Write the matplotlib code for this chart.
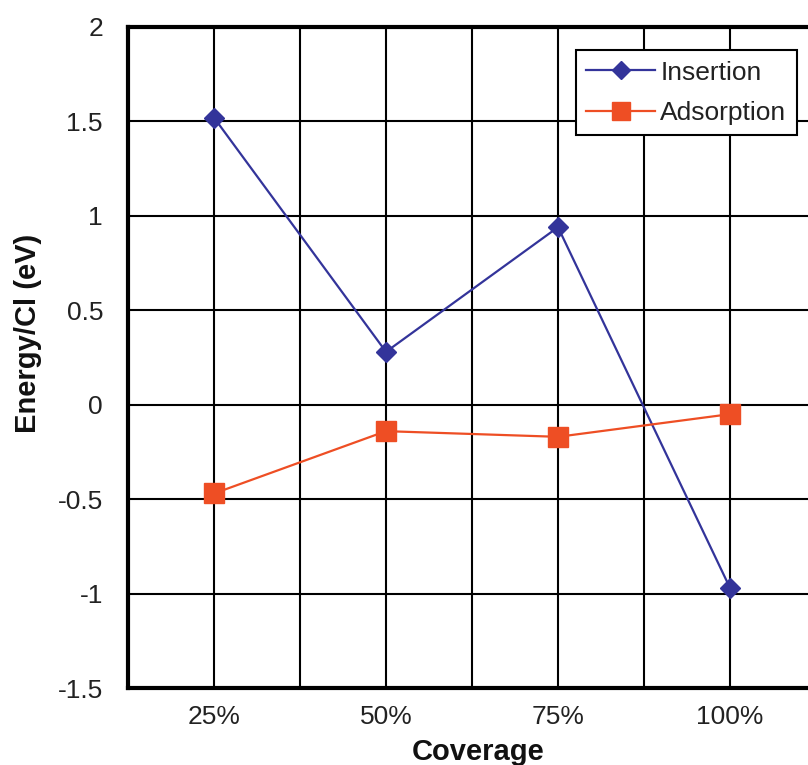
import matplotlib
matplotlib.use("Agg")
import matplotlib.pyplot as plt
import numpy as np

coverage = ["25%", "50%", "75%", "100%"]
insertion = [1.52, 0.28, 0.94, -0.97]
adsorption = [-0.47, -0.14, -0.17, -0.05]
y_ticks = [-1.5, -1, -0.5, 0, 0.5, 1, 1.5, 2]
y_tick_labels = ["-1.5", "-1", "-0.5", "0", "0.5", "1", "1.5", "2"]

plt.rcParams["font.family"] = ["Liberation Sans", "DejaVu Sans"]

W, H = 808, 765
fig = plt.figure(figsize=(W / 100, H / 100), dpi=100)

# axes box in pixel terms; the right side runs past the figure edge
left, right, top, bottom = 128, 816, 27, 688
ax = fig.add_axes([left / W, 1 - bottom / H, (right - left) / W, (bottom - top) / H])

x = np.arange(len(coverage))
ax.plot(x, insertion, color="#33349A", lw=1.6, marker="D", ms=10,
        label="Insertion", zorder=3, clip_on=False)
ax.plot(x, adsorption, color="#EE4E24", lw=1.6, marker="s", ms=15,
        label="Adsorption", zorder=3, clip_on=False)

ax.set_xlim(-0.5, len(coverage) - 0.5)
ax.set_ylim(-1.5, 2)
ax.set_xticks(x)
ax.set_xticklabels(coverage)
ax.set_xticks(np.arange(-0.5, len(coverage), 1.0), minor=True)
ax.set_yticks(y_ticks)
ax.set_yticklabels(y_tick_labels)

ax.grid(True, which="both", axis="x", color="black", lw=1.5)
ax.grid(True, which="major", axis="y", color="black", lw=1.5)
ax.set_axisbelow(True)

ax.tick_params(axis="both", which="both", length=0, labelsize=19, labelcolor="#222222")
ax.tick_params(axis="y", pad=18)
ax.tick_params(axis="x", pad=12)

for s in ax.spines.values():
    s.set_linewidth(3)
    s.set_color("black")

fig.text(28 / W, 1 - 333 / H, "Energy/Cl (eV)", rotation=90, fontsize=21,
         fontweight="bold", ha="center", va="center", color="#111111")
fig.text(478 / W, 1 - 738 / H, "Coverage", fontsize=21, fontweight="bold",
         ha="center", va="top", color="#111111")

leg = ax.legend(loc="upper right", bbox_to_anchor=(797 / W, 1 - 50 / H),
                bbox_transform=fig.transFigure, borderaxespad=0,
                fontsize=19, handlelength=2.6, handletextpad=0.2,
                labelspacing=0.62, borderpad=0.4, fancybox=False,
                framealpha=1, edgecolor="black", markerscale=0.9)
leg.get_frame().set_linewidth(1.5)
for t in leg.get_texts():
    t.set_color("#222222")

fig.savefig("out.png", dpi=100)
